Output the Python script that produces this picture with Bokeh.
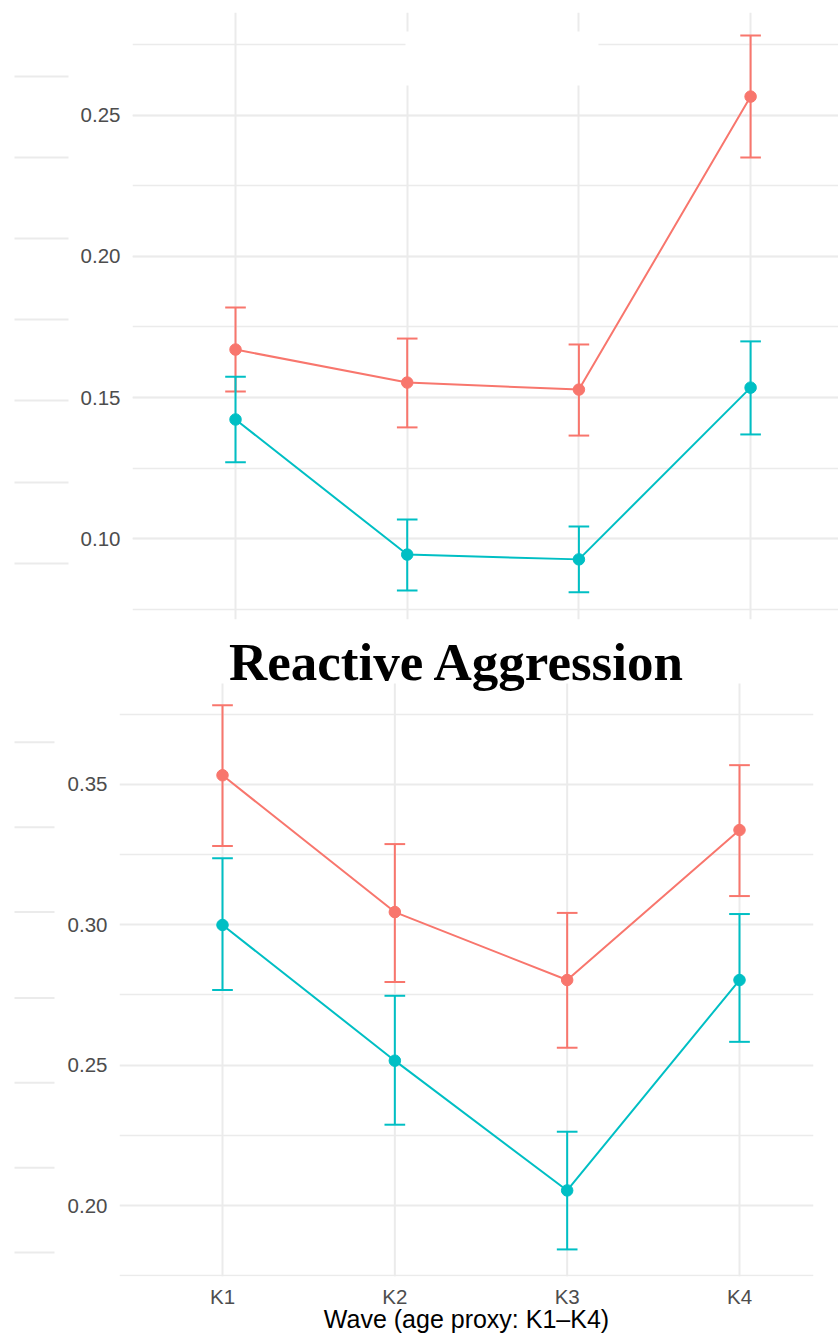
from bokeh.plotting import figure
from bokeh.models import (Range1d, SingleIntervalTicker, FixedTicker,
                          BoxAnnotation, ColumnDataSource, NumeralTickFormatter)
from bokeh.core.properties import value
from bokeh.layouts import column, row
from bokeh.embed import file_html
from bokeh.resources import INLINE

# ---------------- data ----------------
waves = ["K1", "K2", "K3", "K4"]
wave_pos = [1, 2, 3, 4]

# top panel (title cropped in the source)
top_red_mean = [0.1670, 0.1553, 0.1528, 0.2567]
top_red_low = [0.1521, 0.1394, 0.1365, 0.2351]
top_red_high = [0.1819, 0.1709, 0.1688, 0.2784]
top_teal_mean = [0.1422, 0.0943, 0.0926, 0.1535]
top_teal_low = [0.1270, 0.0816, 0.0809, 0.1369]
top_teal_high = [0.1574, 0.1067, 0.1043, 0.1699]

# Reactive Aggression
re_red_mean = [0.3532, 0.3045, 0.2803, 0.3337]
re_red_low = [0.3280, 0.2796, 0.2562, 0.3102]
re_red_high = [0.3781, 0.3287, 0.3042, 0.3568]
re_teal_mean = [0.2999, 0.2516, 0.2054, 0.2803]
re_teal_low = [0.2768, 0.2288, 0.1844, 0.2583]
re_teal_high = [0.3237, 0.2747, 0.2263, 0.3038]

bot_major_ticks = [0.20, 0.25, 0.30, 0.35]
bot_minor_ticks = [0.175, 0.225, 0.275, 0.325, 0.375]

bottom_title = "Reactive Aggression"
x_title = "Wave (age proxy: K1\u2013K4)"

RED = "#F8766D"
TEAL = "#00BFC4"
GRID = "#EBEBEB"
CAP = 0.06


def style(p, show_x):
    p.background_fill_color = "white"
    p.border_fill_color = "white"
    p.outline_line_color = None
    p.xgrid.ticker = FixedTicker(ticks=wave_pos)
    p.xgrid.grid_line_color = GRID
    p.xgrid.grid_line_width = 2
    p.ygrid.grid_line_color = GRID
    p.ygrid.grid_line_width = 2
    p.ygrid.minor_grid_line_color = GRID
    p.ygrid.minor_grid_line_width = 1.5
    p.yaxis.formatter = NumeralTickFormatter(format="0.00")
    for ax in [p.xaxis[0], p.yaxis[0]]:
        ax.axis_line_color = None
        ax.major_tick_line_color = None
        ax.minor_tick_line_color = None
        ax.major_tick_out = 0
        ax.major_tick_in = 0
        ax.minor_tick_out = 0
        ax.minor_tick_in = 0
        ax.major_label_text_color = "#4D4D4D"
        ax.major_label_text_font = "Liberation Sans"
        ax.major_label_text_font_size = "20.5px"
    p.yaxis.major_label_standoff = 12
    p.xaxis.ticker = FixedTicker(ticks=wave_pos)
    p.xaxis.major_label_overrides = {i: w for i, w in zip(wave_pos, waves)}
    if not show_x:
        p.xaxis.visible = False


def draw(p, mean, low, high, color):
    src = ColumnDataSource(dict(
        x=wave_pos, m=mean, lo=low, hi=high,
        xl=[v - CAP for v in wave_pos], xr=[v + CAP for v in wave_pos]))
    p.segment(x0="x", y0="lo", x1="x", y1="hi", source=src, line_color=color, line_width=2)
    p.segment(x0="xl", y0="lo", x1="xr", y1="lo", source=src, line_color=color, line_width=2)
    p.segment(x0="xl", y0="hi", x1="xr", y1="hi", source=src, line_color=color, line_width=2)
    p.line(x="x", y="m", source=src, line_color=color, line_width=2)
    p.scatter(x="x", y="m", source=src, size=11.5, fill_color=color, line_color=color)


def strip(width, height, frame_top, frame_bottom, ys, x0, x1):
    # narrow decorative strip; its frame is aligned with the neighbouring
    # plot frame, so its y range is expressed in page pixels of that frame
    s = figure(width=width, height=height, x_range=Range1d(0, width),
               y_range=Range1d(frame_bottom, frame_top), output_backend="svg",
               toolbar_location=None, min_border=0)
    s.axis.visible = False
    s.grid.visible = False
    s.outline_line_color = None
    s.segment(x0=[x0] * len(ys), y0=ys, x1=[x1] * len(ys), y1=ys,
              line_color=GRID, line_width=2)
    return s


# ---------------- top panel ----------------
top = figure(width=766, height=625, x_range=Range1d(0.40, 4.512),
             y_range=Range1d(0.07128, 0.28652), output_backend="svg",
             toolbar_location=None, min_border_left=60, min_border_right=0,
             min_border_top=12, min_border_bottom=6)
style(top, False)
top.yaxis.ticker = SingleIntervalTicker(interval=0.05, num_minor_ticks=2)
draw(top, top_red_mean, top_red_low, top_red_high, RED)
draw(top, top_teal_mean, top_teal_low, top_teal_high, TEAL)
top.add_layout(BoxAnnotation(left=1.99, right=3.114, bottom=0.2606, top=0.2798,
                             fill_color="white", fill_alpha=1, line_color=None))

top_strip = strip(72, 625, 12, 619, [76, 157, 238, 319, 400, 482, 563], 14, 68)

# ---------------- bottom panel ----------------
BOT_LO, BOT_GRID_TOP, BOT_HI = 0.17476, 0.3859, 0.40652
bot = figure(width=780, height=710, x_range=Range1d(0.4023, 4.4294),
             y_range=Range1d(BOT_LO, BOT_HI), output_backend="svg",
             toolbar_location=None, min_border_left=61, min_border_right=25,
             min_border_top=0, min_border_bottom=58)
style(bot, True)
bot.xgrid.visible = False
bot.yaxis.ticker = FixedTicker(ticks=bot_major_ticks, minor_ticks=bot_minor_ticks)
bot.xaxis.major_label_standoff = 8
bot.xaxis.axis_label = x_title
bot.xaxis.axis_label_text_font = "Liberation Sans"
bot.xaxis.axis_label_text_font_size = "25px"
bot.xaxis.axis_label_text_font_style = "normal"
bot.xaxis.axis_label_text_color = "black"
bot.xaxis.axis_label_standoff = -6
# vertical grid lines (stop below the panel title)
bot.segment(x0=wave_pos, y0=[BOT_LO] * 4, x1=wave_pos, y1=[BOT_GRID_TOP] * 4,
            line_color=GRID, line_width=2)
draw(bot, re_red_mean, re_red_low, re_red_high, RED)
draw(bot, re_teal_mean, re_teal_low, re_teal_high, TEAL)
bot.text(x=[1.038], y=[0.3934], text=[bottom_title],
         text_font=value("Liberation Serif"), text_font_style="bold",
         text_font_size="53px", text_color="black",
         text_align="left", text_baseline="alphabetic")

bot_strip = strip(58, 710, 625, 1277, [742, 827, 912, 998, 1083, 1168, 1253], 14, 54)

layout = column(row(top_strip, top), row(bot_strip, bot))

open("out.html", "w").write(file_html(layout, INLINE))
